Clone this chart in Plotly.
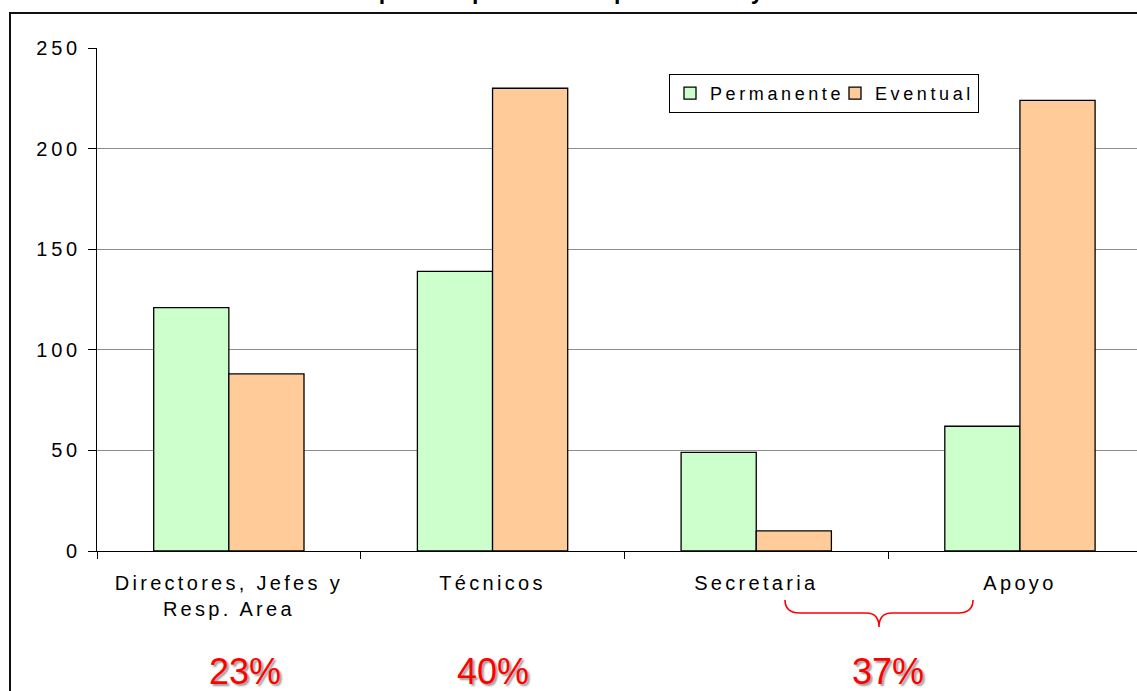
import plotly.graph_objects as go

# Staff headcount by job group and contract type
categories = ["Directores, Jefes y<br>Resp. Area", "Técnicos", "Secretaria", "Apoyo"]
permanente = [121, 139, 49, 62]
eventual = [88, 230, 10, 224]

# Groups summarised below the axis (indices into categories)
share_groups = [[0], [1], [2, 3]]
share_x = [0.06, 1.0, 2.5]

y_ticks = [0, 50, 100, 150, 200, 250]
title_text = "Empleados por contrato permanente y eventual"

W, H = 1137, 691
ML, MT, MB = 97, 48, 140
PW, PH = W - ML, H - MT - MB


def px(x):
    return (x - ML) / PW


def py(y):
    return (H - MB - y) / PH


font_family = "Liberation Sans, Arial, sans-serif"

fig = go.Figure()
fig.add_trace(go.Bar(
    name="Permanente", x=categories, y=permanente, legendwidth=120,
    marker=dict(color="#CCFFCC", line=dict(color="#000000", width=1.3)),
))
fig.add_trace(go.Bar(
    name="Eventual", x=categories, y=eventual, legendwidth=98,
    marker=dict(color="#FFCC99", line=dict(color="#000000", width=1.3)),
))

total = sum(permanente) + sum(eventual)
annotations = []
for idx, xpos in zip(share_groups, share_x):
    part = sum(permanente[i] + eventual[i] for i in idx)
    pct = round(100 * part / total)
    annotations.append(dict(
        x=xpos, xref="x", y=py(671), yref="paper",
        text=f"{pct}%", showarrow=False, xanchor="center", yanchor="middle",
        font=dict(family=font_family, size=36, color="#FF0000",
                  shadow="2px 2px 2px #9a9a9a"),
    ))

# Title sits at the very top edge of the page
annotations.append(dict(
    x=px(341), xref="paper", y=py(6), yref="paper",
    text=f"<b>{title_text}</b>", showarrow=False, xanchor="left", yanchor="bottom",
    font=dict(family=font_family, size=23, color="#000000"),
))

# Curly brace joining Secretaria and Apoyo
brace_pts = [
    ("M", [(785, 600)]),
    ("Q", [(785, 613), (800, 613)]),
    ("L", [(866, 613)]),
    ("Q", [(879, 613), (879, 627)]),
    ("Q", [(879, 613), (892, 613)]),
    ("L", [(958, 613)]),
    ("Q", [(973, 613), (973, 600)]),
]
brace_path = " ".join(
    cmd + " " + " ".join(f"{px(a):.5f},{py(b):.5f}" for a, b in pts)
    for cmd, pts in brace_pts
)

shapes = [
    dict(type="path", path=brace_path, xref="paper", yref="paper",
         line=dict(color="#FF0000", width=1.6)),
    dict(type="rect", xref="paper", yref="paper",
         x0=px(10), x1=1.2, y0=-0.6, y1=py(13),
         line=dict(color="#111111", width=2), fillcolor="rgba(0,0,0,0)"),
]

fig.update_layout(
    width=W, height=H,
    margin=dict(l=ML, r=0, t=MT, b=MB, pad=0),
    paper_bgcolor="white", plot_bgcolor="white",
    barmode="group", bargap=0.43, bargroupgap=0,
    font=dict(family=font_family, color="#000000"),
    showlegend=True,
    legend=dict(
        orientation="h", x=px(669), y=py(74), xanchor="left", yanchor="top",
        bgcolor="white", bordercolor="#000000", borderwidth=1,
        font=dict(size=18, color="#000000"),
        itemwidth=30, tracegroupgap=0,
    ),
    annotations=annotations,
    shapes=shapes,
)

fig.update_xaxes(
    range=[-0.5, -0.5 + PW / 263.7],
    showline=True, linecolor="#000000", linewidth=1,
    ticks="outside", tickson="boundaries", ticklen=7, tickcolor="#000000",
    tickfont=dict(size=20, color="#000000"),
    showgrid=False, zeroline=False, ticklabelstandoff=14,
)
fig.update_yaxes(
    range=[0, 250], tickvals=y_ticks,
    showline=True, linecolor="#000000", linewidth=1,
    ticks="outside", ticklen=8, tickcolor="#000000",
    tickfont=dict(size=20, color="#000000"),
    showgrid=True, gridcolor="#8c8c8c", gridwidth=1, zeroline=False,
    ticklabelstandoff=3,
)

# Wide letter spacing for axis and legend labels
spacing_script = """
var st = document.createElement('style');
st.textContent = '.xtick text{letter-spacing:3.3px} .ytick text{letter-spacing:3.8px} text.legendtext{letter-spacing:3.6px}';
document.head.appendChild(st);
"""

fig.write_html("out.html", config={"displayModeBar": False}, post_script=spacing_script)
